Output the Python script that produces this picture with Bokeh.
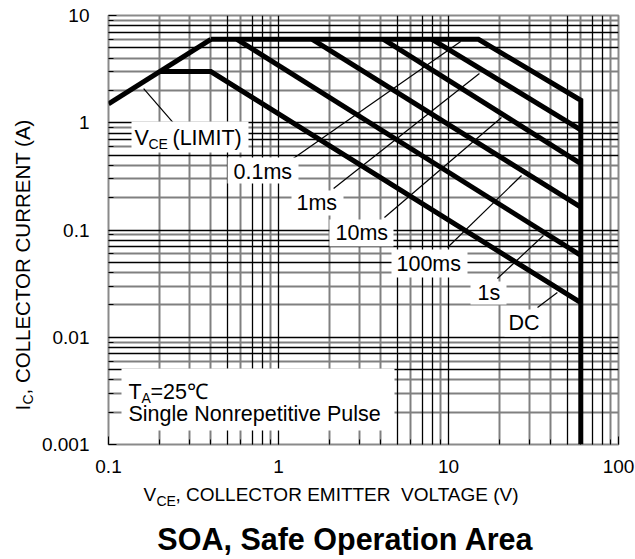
import math
from bokeh.plotting import figure
from bokeh.layouts import row, column
from bokeh.models import FixedTicker, Grid, Label, BoxAnnotation, Range1d, CustomJSTickFormatter
from bokeh.embed import file_html
from bokeh.resources import INLINE

# ---- data (V in volts, I in amperes) ----
vce_limit_v = [0.1, 0.4]
vce_limit_i = [1.5, 6.0]
dc_v = [0.2, 0.4, 60.0]
dc_i = [3.0, 3.0, 0.021]
s1_v = [0.57, 60.0]
s1_i = [6.0, 0.058]
ms100_v = [1.58, 60.0]
ms100_i = [6.0, 0.163]
ms10_v = [4.15, 60.0]
ms10_i = [6.0, 0.415]
ms1_v = [8.0, 60.0]
ms1_i = [6.0, 0.86]
ms01_v = [0.4, 15.0, 60.0, 60.0]
ms01_i = [6.0, 6.0, 1.62, 0.001]

# leader lines (label end -> curve end)
lead_v0 = [0.245, 1.13, 2.11, 4.2, 9.87, 19.4, 33.4]
lead_i0 = [0.964, 0.425, 0.244, 0.131, 0.0687, 0.0353, 0.0189]
lead_v1 = [0.161, 11.8, 15.2, 20.5, 26.9, 36.2, 43.7]
lead_i1 = [2.08, 5.73, 2.88, 1.12, 0.322, 0.0889, 0.0261]

x_major = [0.1, 1, 10, 100]
y_major = [0.001, 0.01, 0.1, 1, 10]
grid_gray_mult = [2, 3, 4, 6, 9]
grid_black_mult = [1, 5, 7, 8]

FONT = "Liberation Sans"

def decades(lo_exp, hi_exp, mults):
    out = []
    for e in range(lo_exp, hi_exp):
        for m in mults:
            out.append(m * 10.0 ** e)
    return out

x_gray = decades(-1, 2, grid_gray_mult)
x_black = [v for v in decades(-1, 2, grid_black_mult) if v > 0.1]
y_gray = decades(-3, 1, grid_gray_mult)
y_black = [v for v in decades(-3, 1, grid_black_mult) if v > 0.001]
x_minor = decades(-1, 2, [2, 3, 4, 5, 6, 7, 8, 9])
y_minor = decades(-3, 1, [2, 3, 4, 5, 6, 7, 8, 9])

# layout geometry (page pixels)
L, R, T, B = 108, 618, 15, 444
FW, FH = R - L, B - T
YT_W = 37                # strip holding the y-axis title
BL = L - YT_W            # left border of the main plot
BR = 17
MAIN_H = 474
XT_H = 80

def dx(X):
    return 10 ** ((X - L) / FW * 3 - 1)
def dy(Y):
    return 10 ** (1 - (Y - T) / FH * 4)

p = figure(x_axis_type="log", y_axis_type="log",
           x_range=Range1d(0.1, 100), y_range=Range1d(0.001, 10),
           frame_width=FW, frame_height=FH,
           min_border_left=BL, min_border_right=BR, min_border_top=T,
           min_border_bottom=MAIN_H - T - FH,
           output_backend="svg", toolbar_location=None,
           background_fill_color="white", border_fill_color="white")

p.outline_line_color = "#8a8a8a"
p.outline_line_width = 2

fmt = CustomJSTickFormatter(code="return tick.toString();")
p.xaxis.ticker = FixedTicker(ticks=x_major, minor_ticks=x_minor)
p.yaxis.ticker = FixedTicker(ticks=y_major, minor_ticks=y_minor)
p.xaxis.formatter = fmt
p.yaxis.formatter = fmt
for ax in (p.xaxis, p.yaxis):
    ax.axis_line_color = None
    ax.major_tick_in = 8
    ax.major_tick_out = 0
    ax.minor_tick_in = 5
    ax.minor_tick_out = 0
    ax.major_tick_line_color = "black"
    ax.minor_tick_line_color = "black"
    ax.major_label_text_font = FONT
    ax.major_label_text_font_size = "19px"
    ax.major_label_text_color = "black"
p.xaxis.major_label_standoff = 15
p.yaxis.major_label_standoff = 19

p.xgrid.ticker = FixedTicker(ticks=x_gray)
p.ygrid.ticker = FixedTicker(ticks=y_gray)
for g in (p.xgrid, p.ygrid):
    g.grid_line_color = "#808080"
    g.grid_line_width = 2
p.add_layout(Grid(dimension=0, ticker=FixedTicker(ticks=x_black), grid_line_color="black", grid_line_width=1.3))
p.add_layout(Grid(dimension=1, ticker=FixedTicker(ticks=y_black), grid_line_color="black", grid_line_width=1.3))

# leader lines
p.segment(x0=lead_v0, y0=lead_i0, x1=lead_v1, y1=lead_i1, line_color="black", line_width=1.2)

# curves
LW = 5
for vv, ii in [(vce_limit_v, vce_limit_i), (dc_v, dc_i), (s1_v, s1_i), (ms100_v, ms100_i),
               (ms10_v, ms10_i), (ms1_v, ms1_i), (ms01_v, ms01_i)]:
    p.line(vv, ii, line_color="black", line_width=LW, line_join="miter")

# white label boxes
boxes = [(131, 248, 121, 152), (227, 298, 157, 183), (291, 343, 190, 215), (329, 393, 219, 246),
         (391, 467, 249, 277), (470, 506, 281, 304), (504, 541, 309, 336), (121, 394, 368, 430)]
for x0, x1, y0, y1 in boxes:
    p.add_layout(BoxAnnotation(left=dx(x0), right=dx(x1), top=dy(y0), bottom=dy(y1),
                               fill_color="white", fill_alpha=1.0, line_color=None))

def mklabel(fig, x, y, text, size=21.5, align="left", baseline="middle", bold=False, angle=0.0):
    fig.add_layout(Label(x=x, y=y, text=text, text_font=FONT, text_font_size=f"{size}px",
                         text_align=align, text_baseline=baseline, text_color="black",
                         text_font_style="bold" if bold else "normal", angle=angle))

def lab(X, Y, text, **kw):
    mklabel(p, dx(X), dy(Y), text, **kw)

# in-plot labels
lab(134, 137, "V")
lab(148, 143, "CE", size=14)
lab(172, 137, "(LIMIT)")
lab(233, 171, "0.1ms")
lab(296, 202, "1ms")
lab(335, 232, "10ms")
lab(396, 263, "100ms")
lab(477, 292, "1s")
lab(508, 322, "DC")
lab(128, 391, "T")
lab(141, 397, "A", size=14)
lab(150, 391, "=25\u2103")
lab(128, 413, "Single Nonrepetitive Pulse")

def text_strip(**kw):
    f = figure(min_border=0, toolbar_location=None, output_backend="svg",
               x_axis_location=None, y_axis_location=None,
               background_fill_color="white", border_fill_color="white", **kw)
    f.outline_line_color = None
    f.xgrid.visible = False
    f.ygrid.visible = False
    return f

# y-axis title strip (local coords == page coords)
YH = MAIN_H + XT_H
yt = text_strip(width=YT_W, height=YH, x_range=Range1d(0, YT_W), y_range=Range1d(YH, 0))
a = math.pi / 2
mklabel(yt, 22, 410, "I", size=20.5, angle=a)
mklabel(yt, 27, 404, "C", size=14, angle=a)
mklabel(yt, 22, 394, ", COLLECTOR CURRENT (A)", size=20.5, angle=a)

# x-axis title and caption strip: its frame is aligned with the main frame
xt = text_strip(frame_width=FW, frame_height=XT_H,
                x_range=Range1d(0, FW), y_range=Range1d(XT_H, 0))
xt.min_border_left = BL
xt.min_border_right = BR
ox, oy = L, MAIN_H
mklabel(xt, 143 - ox, 493 - oy, "V", size=19)
mklabel(xt, 156 - ox, 499 - oy, "CE", size=14)
mklabel(xt, 175 - ox, 493 - oy, ", COLLECTOR EMITTER\u00a0 VOLTAGE (V)", size=19)
mklabel(xt, 345 - ox, 537 - oy, "SOA, Safe Operation Area", size=30.5, align="center", bold=True)

layout = row(yt, column(p, xt, spacing=0), spacing=0)
open("out.html", "w").write(file_html(layout, INLINE))
